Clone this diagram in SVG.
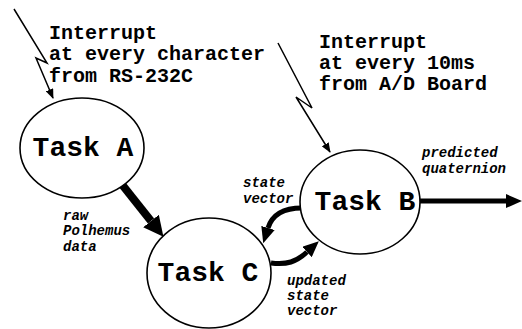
<svg xmlns="http://www.w3.org/2000/svg" width="522" height="329" viewBox="0 0 522 329">
<defs>
<style>
.node ellipse{fill:#fff;stroke:#000;stroke-width:1.6}
.title{font-family:"Liberation Mono","DejaVu Sans Mono",monospace;font-weight:bold;font-size:28px;text-anchor:middle;fill:#000}
.note{font-family:"Liberation Mono","DejaVu Sans Mono",monospace;font-weight:bold;font-size:20px;fill:#000}
.lab{font-family:"Liberation Mono","DejaVu Sans Mono",monospace;font-weight:bold;font-style:italic;font-size:14px;fill:#000}
.bolt{fill:none;stroke:#000;stroke-width:1.5}
.thick{fill:none;stroke:#000}
</style>
<marker id="bigHead" viewBox="0 0 20 20" refX="0" refY="10" markerWidth="20" markerHeight="20" markerUnits="userSpaceOnUse" orient="auto"><path d="M0,0 L20,10 L0,20 Z" fill="#000"/></marker>
<marker id="medHead" viewBox="0 0 16 14" refX="0" refY="7" markerWidth="16" markerHeight="14" markerUnits="userSpaceOnUse" orient="auto"><path d="M0,0 L16,7 L0,14 Z" fill="#000"/></marker>
<marker id="smallHead" viewBox="0 0 10 8" refX="9" refY="4" markerWidth="10" markerHeight="8" markerUnits="userSpaceOnUse" orient="auto"><path d="M0,0 L10,4 L0,8 Z" fill="#000"/></marker>
</defs>
<rect width="522" height="329" fill="#fff"/>
<g id="connectors">
<polyline class="bolt" points="14,9 47,63 36,58 53,98" marker-end="url(#smallHead)"/>
<polyline class="bolt" points="278,43 312,108 296,97 330,152" marker-end="url(#smallHead)"/>
<line class="thick" x1="120" y1="182" x2="151" y2="221" stroke-width="8" marker-end="url(#bigHead)"/>
<line class="thick" x1="420" y1="201" x2="506" y2="201" stroke-width="5" marker-end="url(#medHead)"/>
<path class="thick" d="M302,208 C288,208 273,212 268,228" stroke-width="5" marker-end="url(#medHead)"/>
<path class="thick" d="M271,263 C287,265 296,262 307,252" stroke-width="5" marker-end="url(#medHead)"/>
</g>
<g id="taskA" class="node"><ellipse cx="82" cy="148" rx="62" ry="50"/><text class="title" x="83" y="156">Task A</text></g>
<g id="taskC" class="node"><ellipse cx="209" cy="273" rx="62" ry="55"/><text class="title" x="208" y="281">Task C</text></g>
<g id="taskB" class="node"><ellipse cx="360" cy="202" rx="60" ry="52"/><text class="title" x="365" y="210">Task B</text></g>
<g id="labels">
<text class="note" x="49" y="39">Interrupt</text>
<text class="note" x="49" y="60">at every character</text>
<text class="note" x="49" y="82">from RS-232C</text>
<text class="note" x="319" y="48">Interrupt</text>
<text class="note" x="319" y="69">at every 10ms</text>
<text class="note" x="319" y="90">from A/D Board</text>
<text class="lab" x="63" y="220">raw</text>
<text class="lab" x="63" y="235">Polhemus</text>
<text class="lab" x="63" y="251">data</text>
<text class="lab" x="243" y="187">state</text>
<text class="lab" x="243" y="203">vector</text>
<text class="lab" x="422" y="157">predicted</text>
<text class="lab" x="422" y="173">quaternion</text>
<text class="lab" x="287" y="285">updated</text>
<text class="lab" x="287" y="300">state</text>
<text class="lab" x="287" y="315">vector</text>
</g>
</svg>
